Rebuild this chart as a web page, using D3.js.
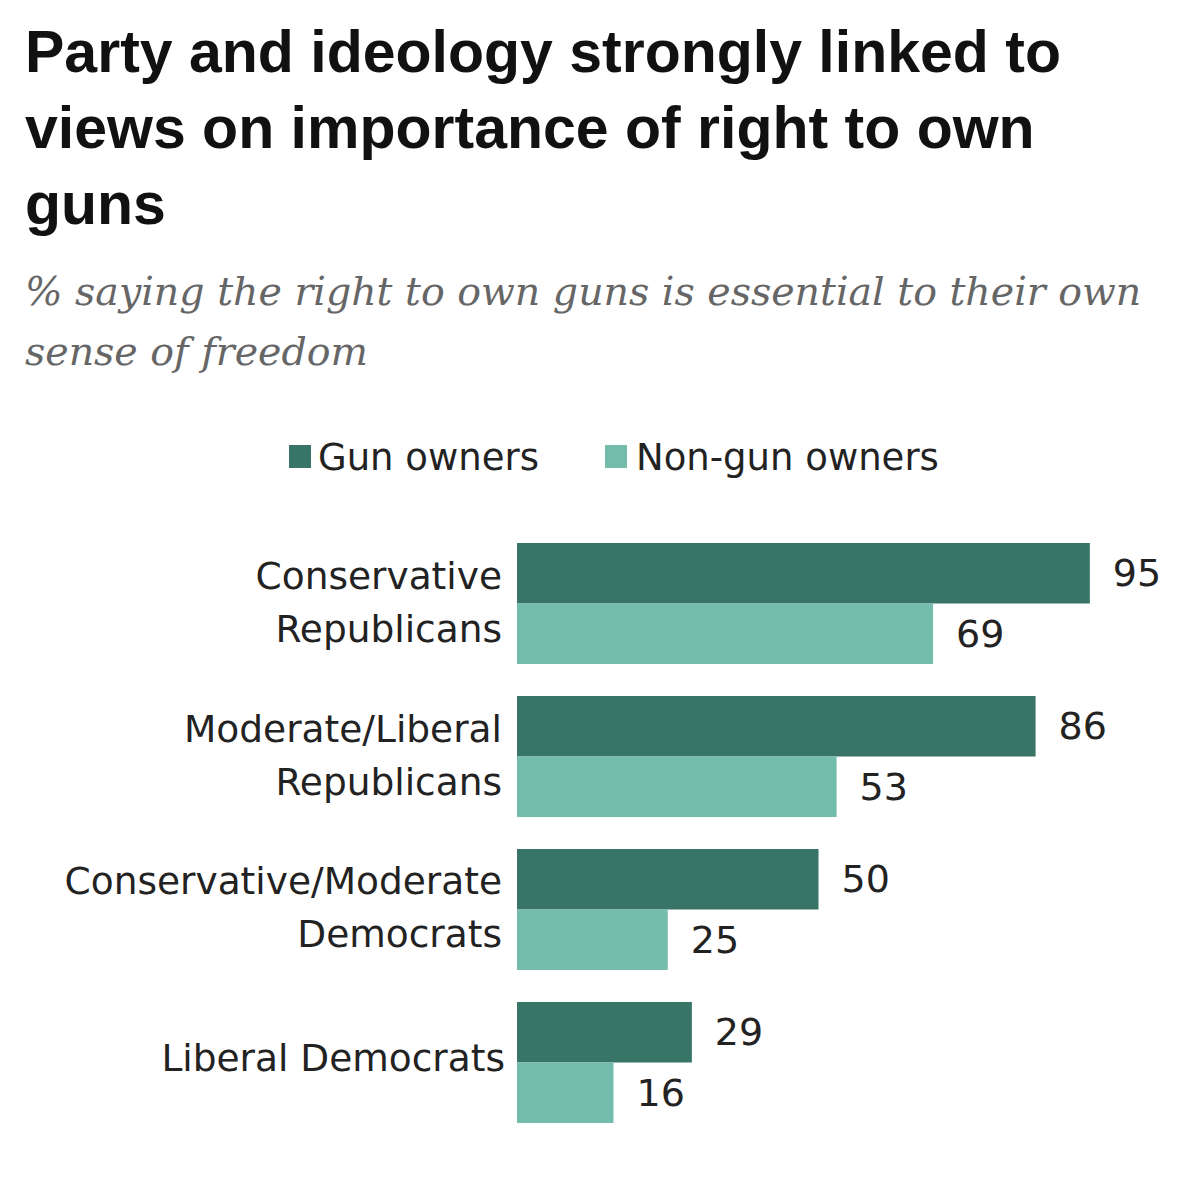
<!DOCTYPE html>
<html><head><meta charset="utf-8">
<script src="https://cdn.jsdelivr.net/npm/d3@7"></script>
<style>body{margin:0;background:#fff}</style>
</head><body>
<script>
const categories = [["Conservative","Republicans"],["Moderate/Liberal","Republicans"],["Conservative/Moderate","Democrats"],["Liberal Democrats"]];
const seriesNames = ["Gun owners","Non-gun owners"];
const gunOwners = [95,86,50,29];
const nonGunOwners = [69,53,25,16];
const titleLines = ["Party and ideology strongly linked to","views on importance of right to own","guns"];
const subtitleLines = ["% saying the right to own guns is essential to their own","sense of freedom"];

const W=1185,H=1200;
const colors=["#387567","#74bcac"];
const sans="'DejaVu Sans',Verdana,sans-serif";
const svg=d3.select("body").append("svg").attr("width",W).attr("height",H);

svg.selectAll("text.title").data(titleLines).join("text")
  .attr("x",25).attr("y",(d,i)=>72+i*76)
  .attr("font-family","'Liberation Sans',Arial,sans-serif").attr("font-weight","bold")
  .attr("font-size",59).attr("fill","#111").text(d=>d);

svg.selectAll("text.sub").data(subtitleLines).join("text")
  .attr("x",25).attr("y",(d,i)=>305+i*60)
  .attr("font-family","'DejaVu Serif',Georgia,serif").attr("font-style","italic")
  .attr("font-size",39.5).attr("fill","#666").text(d=>d);

const keys=categories.map((c,i)=>i);
const y=d3.scaleBand().domain(keys).range([543,1123]).paddingInner(0.209);
const yi=d3.scaleBand().domain([0,1]).range([0,y.bandwidth()]);
const x=d3.scaleLinear().domain([0,100]).range([517,517+603]);

const data=keys.map(i=>[gunOwners[i],nonGunOwners[i]]);
const g=svg.selectAll("g.grp").data(data).join("g").attr("transform",(d,i)=>`translate(0,${y(i)})`);
g.selectAll("rect").data(d=>d).join("rect")
  .attr("x",x(0)).attr("y",(d,j)=>yi(j)).attr("height",yi.bandwidth())
  .attr("width",d=>x(d)-x(0)).attr("fill",(d,j)=>colors[j]);
g.selectAll("text.val").data(d=>d).join("text")
  .attr("x",d=>x(d)+23).attr("y",(d,j)=>yi(j)+yi.bandwidth()/2+13)
  .attr("font-family",sans).attr("font-size",38).attr("fill","#222")
  .text(d=>d);

const lab=svg.selectAll("text.lab").data(categories).join("text")
  .attr("text-anchor","end")
  .attr("font-family",sans).attr("font-size",37.5).attr("fill","#222");
lab.each(function(d,i){
  const t=d3.select(this);
  const c=y(i)+y.bandwidth()/2;
  if(d.length===1){ t.append("tspan").attr("x",505).attr("y",c+9).text(d[0]); }
  else { d.forEach((s,k)=>t.append("tspan").attr("x",502).attr("y",c-15+k*53).text(s)); }
});

// legend
const leg=[{x:289,tx:318},{x:605,tx:636}];
leg.forEach((l,i)=>{
  svg.append("rect").attr("x",l.x).attr("y",445).attr("width",22).attr("height",23).attr("fill",colors[i]);
  svg.append("text").attr("x",l.tx).attr("y",470).attr("font-family",sans)
    .attr("font-size",37).attr("fill","#222").text(seriesNames[i]);
});
</script>
</body></html>
